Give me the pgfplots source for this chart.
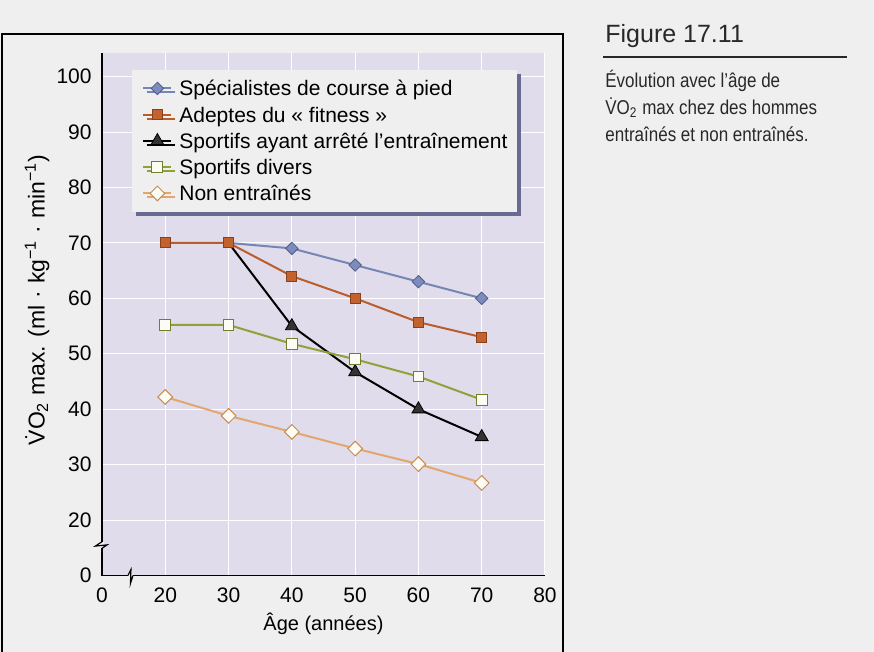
\documentclass[border=0pt]{standalone}
\usepackage{fontspec}
\setmainfont{Liberation Sans}
\newfontfamily\capfont[FakeStretch=0.85]{Liberation Sans}
\usepackage{pgfplots}
\pgfplotsset{compat=1.18}
\usetikzlibrary{shadows}

\definecolor{pagebg}{RGB}{239,239,239}
\definecolor{plotbg}{RGB}{224,220,236}
\definecolor{legshadow}{RGB}{104,106,146}
\definecolor{capdark}{RGB}{40,40,40}
\definecolor{bluel}{RGB}{118,134,180}
\definecolor{bluem}{RGB}{125,140,186}
\definecolor{bluee}{RGB}{78,92,138}
\definecolor{orangel}{RGB}{186,92,44}
\definecolor{orangem}{RGB}{194,98,46}
\definecolor{orangee}{RGB}{140,64,24}
\definecolor{greenl}{RGB}{143,162,58}
\definecolor{greene}{RGB}{112,128,42}
\definecolor{tanl}{RGB}{227,166,108}
\definecolor{tane}{RGB}{200,140,80}
\definecolor{openfill}{RGB}{252,252,244}

\newcommand{\chartfont}{\fontsize{10.5}{12.6}\selectfont}
\newcommand{\cdotsep}{\hspace{0.3em}·\hspace{0.3em}}

\begin{document}
\begin{tikzpicture}
\useasboundingbox (0pt,0pt) rectangle (437pt,-326pt);
\fill[pagebg] (0pt,0pt) rectangle (437pt,-326pt);
% frame round the chart
\draw[black, line width=1pt] (0.75pt,-326pt) -- (0.75pt,-17.15pt) -- (281.65pt,-17.15pt) -- (281.65pt,-326pt);

\begin{axis}[
  at={(51pt,-287.75pt)}, anchor=south west,
  scale only axis, width=221.5pt, height=261.1pt,
  xmin=10, xmax=80, ymin=10, ymax=104.2,
  clip=false,
  axis lines=left,
  axis line style={-, line width=0.8pt, black},
  axis background/.style={fill=plotbg},
  xtick={10,20,...,80}, xticklabels={0,20,30,40,50,60,70,80},
  ytick={10,20,...,100}, yticklabels={0,20,30,40,50,60,70,80,90,100},
  major tick length=0pt,
  grid=major, major grid style={white, line width=0.5pt},
  /pgf/number format/assume math mode=true,
  tick label style={font=\chartfont},
  xticklabel style={anchor=north, inner sep=0pt, yshift=-5.75pt},
  yticklabel style={anchor=east, inner sep=0pt, xshift=-5pt},
  label style={font=\chartfont},
  every axis x label/.style={at={(axis description cs:0.5,-0.093)}, anchor=center},
  every axis y label/.style={at={(axis description cs:-0.1467,0.5276)}, rotate=90, anchor=center, font=\fontsize{11.5}{13}\selectfont},
  xlabel={Âge (années)},
  ylabel={\.{V}O\textsubscript{2} max. (ml\cdotsep kg\textsuperscript{−1}\cdotsep min\textsuperscript{−1})},
  legend cell align=left,
  legend image code/.code={\draw[mark repeat=2,mark phase=2,#1] plot coordinates {(0pt,0pt) (7pt,0pt) (14pt,0pt)};},
  legend style={at={(rel axis cs:0.0677,0.969)}, anchor=north west,
    fill=pagebg, draw=none, inner xsep=5pt, inner ysep=2.7pt,
    row sep=0pt, column sep=3.5pt, font=\chartfont,
    nodes={inner sep=0pt, text height=10.3pt, text depth=2.83pt},
    general shadow={fill=legshadow, shadow xshift=2pt, shadow yshift=-2pt}},
]

% runners
\addplot[bluel, line width=1pt, mark=square*, mark size=2.2pt, mark phase=2,
  mark options={rotate=45, fill=bluem, draw=bluee, line width=0.4pt, solid}]
  coordinates {(30,70) (40,69) (50,66) (60,63) (70,60)};
\addlegendentry{Spécialistes de course à pied}

% fitness
\addplot[orangel, line width=1pt, mark=square*, mark size=2.5pt,
  mark options={fill=orangem, draw=orangee, line width=0.4pt, solid}]
  coordinates {(20,70) (30,70) (40,64) (50,60) (60,55.7) (70,53)};
\addlegendentry{Adeptes du « fitness »}

% stopped training
\addplot[black, line width=1pt, mark=triangle*, mark size=3.7pt, mark phase=2,
  mark options={fill=black!80, draw=black, line width=0.4pt, solid}]
  coordinates {(30,70) (40,55) (50,46.7) (60,40) (70,35)};
\addlegendentry{Sportifs ayant arrêté l’entraînement}

% various sports
\addplot[greenl, line width=1pt, mark=square*, mark size=2.7pt,
  mark options={fill=openfill, draw=greene, line width=0.5pt, solid}]
  coordinates {(20,55.2) (30,55.2) (40,51.8) (50,49) (60,45.9) (70,41.7)};
\addlegendentry{Sportifs divers}

% untrained
\addplot[tanl, line width=1pt, mark=square*, mark size=2.6pt,
  mark options={rotate=45, fill=openfill, draw=tane, line width=0.5pt, solid}]
  coordinates {(20,42.2) (30,38.8) (40,35.9) (50,32.9) (60,30.1) (70,26.7)};
\addlegendentry{Non entraînés}

% axis breaks
\draw[pagebg, line width=1.6pt] (axis cs:10,14.9) -- (axis cs:10,16.1);
\draw[black, line width=0.6pt] (axis cs:10,16.1) -- ++(-3.3pt,-2.2pt) -- ++(5.8pt,0.6pt) -- (axis cs:10,14.9);
\draw[pagebg, line width=1.6pt] (axis cs:14.1,10) -- (axis cs:14.9,10);
\draw[black, line width=0.6pt] (axis cs:14.1,10) -- ++(1.5pt,3pt) -- ++(-0.25pt,-7pt) -- (axis cs:14.9,10);
\end{axis}

% caption block
\node[anchor=base west, inner sep=0pt, text=capdark, font=\fontsize{12.5}{15}\selectfont] at (302.5pt,-21.5pt) {Figure 17.11};
\draw[capdark, line width=0.7pt] (301.5pt,-28.5pt) -- (423.5pt,-28.5pt);
\node[anchor=base west, inner sep=0pt, text=capdark, font=\capfont\fontsize{10}{12}\selectfont] at (302.5pt,-44pt) {Évolution avec l’âge de};
\node[anchor=base west, inner sep=0pt, text=capdark, font=\capfont\fontsize{10}{12}\selectfont] at (302.5pt,-57.35pt) {\.{V}O\textsubscript{2} max chez des hommes};
\node[anchor=base west, inner sep=0pt, text=capdark, font=\capfont\fontsize{10}{12}\selectfont] at (302.5pt,-70.7pt) {entraînés et non entraînés.};
\end{tikzpicture}
\end{document}
